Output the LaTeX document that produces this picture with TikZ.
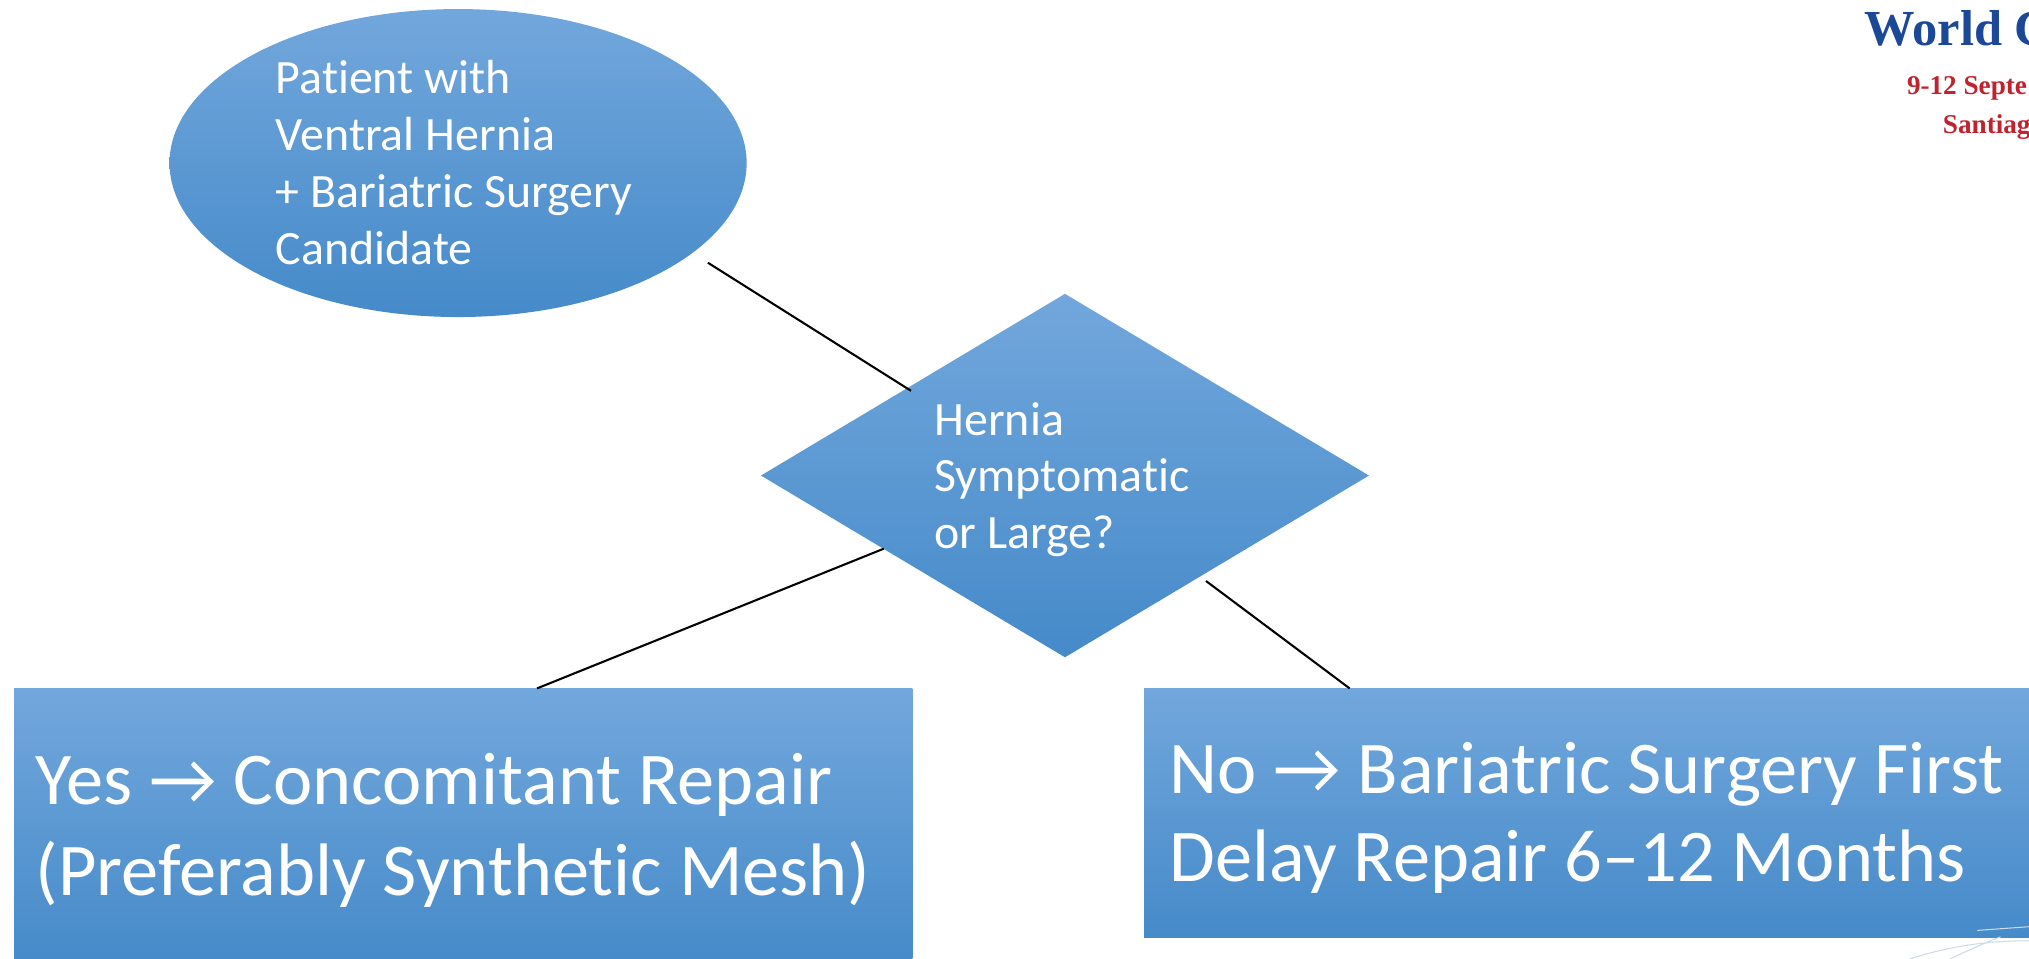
\documentclass[tikz,border=0pt]{standalone}
\usepackage{fontspec}
\setmainfont{Carlito}[Ligatures={TeX,NoCommon}]
\newfontfamily\headfont{Liberation Serif}
\usetikzlibrary{shapes.geometric}
\definecolor{shTop}{RGB}{114,167,220}
\definecolor{shMid}{RGB}{85,153,217}
\definecolor{shBot}{RGB}{69,138,201}
\definecolor{hdBlue}{RGB}{28,72,152}
\definecolor{hdRed}{RGB}{192,35,45}
\definecolor{logoLine}{RGB}{205,218,232}
\tikzset{
  blueshape/.style={draw=none, inner sep=0pt, top color=shTop, middle color=shMid, bottom color=shBot},
  smalltxt/.style={anchor=base west, inner sep=0pt, text=white, font=\fontsize{37}{44}\selectfont},
  bigtxt/.style={anchor=base west, inner sep=0pt, text=white, font=\fontsize{57.5}{70}\selectfont},
  conn/.style={draw=black, line width=1.6pt},
  logo/.style={draw=logoLine, line width=0.8pt}
}
\begin{document}
\begin{tikzpicture}[x=1pt,y=-1pt]
\useasboundingbox[fill=white] (0,0) rectangle (1568,741);

% shapes
\node[blueshape, ellipse, minimum width=446pt, minimum height=238pt] (pat) at (354,126) {};
\node[blueshape, diamond, minimum width=470pt, minimum height=281pt] (dia) at (823,367.5) {};
\node[blueshape, rectangle, anchor=north west, minimum width=694pt, minimum height=215pt] (yes) at (10.8,532) {};
\node[blueshape, rectangle, anchor=north west, minimum width=690pt, minimum height=192.5pt] (no) at (884,532) {};

% texts
\node[smalltxt] (p1) at (213,72.1) {Patient with};
\node[smalltxt] (p2) at (213,116.3) {Ventral Hernia};
\node[smalltxt] (p3) at (213,160.5) {+ Bariatric Surgery};
\node[smalltxt] (p4) at (213,204.7) {Candidate};

\node[smalltxt] (d1) at (722,336.2) {Hernia};
\node[smalltxt] (d2) at (722,380) {Symptomatic};
\node[smalltxt] (d3) at (722,423.8) {or Large?};

\node[bigtxt] (y1) at (27.5,622) {Yes → Concomitant Repair};
\node[bigtxt] (y2) at (27.5,691.7) {(Preferably Synthetic Mesh)};

\node[bigtxt] (n1) at (903.4,613) {No → Bariatric Surgery First};
\node[bigtxt] (n2) at (903.4,681.4) {Delay Repair 6–12 Months};

% header (cut off at the right edge, as in the reference)
\node[anchor=base west, inner sep=0pt, text=hdBlue, font=\headfont\bfseries\fontsize{39}{39}\selectfont] (h1) at (1441,34.8) {World C};
\node[anchor=base west, inner sep=0pt, text=hdRed, font=\headfont\bfseries\fontsize{21}{21}\selectfont] (h2) at (1473.5,73.4) {9-12 Septe};
\node[anchor=base west, inner sep=0pt, text=hdRed, font=\headfont\bfseries\fontsize{21}{21}\selectfont] (h3) at (1501.3,103) {Santiag};

% connectors
\coordinate (c1a) at (547,203);
\coordinate (c1b) at (704,302);
\coordinate (c2a) at (683,424);
\coordinate (c2b) at ([xshift=404.2pt]yes.north west);
\coordinate (c3a) at (932,449);
\coordinate (c3b) at ([xshift=159pt]no.north west);
\draw[conn] (c1a) -- (c1b);
\draw[conn] (c2a) -- (c2b);
\draw[conn] (c3a) -- (c3b);

% faint logo lines bottom right
\draw[logo] (1476,741) .. controls (1510,730) and (1540,727) .. (1570,727);
\draw[logo] (1507,741) .. controls (1520,735) and (1535,728) .. (1546,724);
\draw[logo] (1528,719) -- (1570,716);
\end{tikzpicture}
\end{document}
